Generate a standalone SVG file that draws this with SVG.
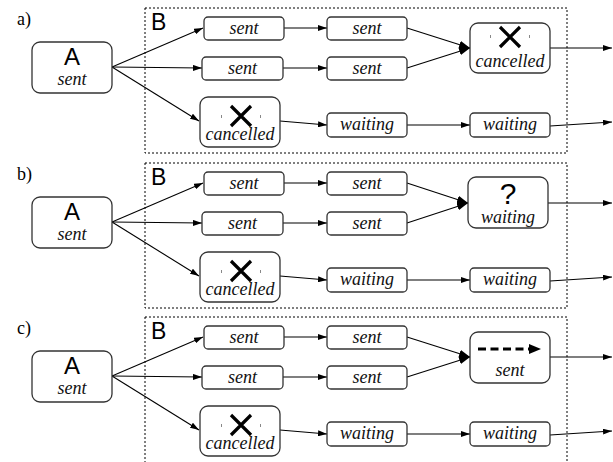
<svg xmlns="http://www.w3.org/2000/svg" width="613" height="462" viewBox="0 0 613 462">
<defs>
<marker id="ah" markerWidth="9" markerHeight="6" refX="9" refY="3" orient="auto" markerUnits="userSpaceOnUse"><path d="M0,0 L9,3 L0,6 z" fill="#000"/></marker>
<marker id="ahb" markerWidth="11" markerHeight="8" refX="11" refY="4" orient="auto" markerUnits="userSpaceOnUse"><path d="M0,0 L11,4 L0,8 z" fill="#000"/></marker>
<style>
.box{fill:#fff;stroke:#333;stroke-width:1.3}
.grp{fill:none;stroke:#000;stroke-width:1;stroke-dasharray:2,2}
.ln{fill:none;stroke:#000;stroke-width:1.1}
.it{font-family:"Liberation Serif",serif;font-style:italic;font-size:18px;fill:#111;text-anchor:middle}
.big{font-family:"Liberation Sans",sans-serif;font-size:24px;fill:#000;text-anchor:middle}
.bl{font-family:"Liberation Sans",sans-serif;font-size:23px;fill:#000}
.pl{font-family:"Liberation Serif",serif;font-size:18px;fill:#000}
.x{stroke:#000;stroke-width:3.2;fill:none}
.dot{fill:#888}
</style>
</defs>

<!-- Panel a -->
<g id="panel-a">
<text class="pl" x="17" y="25">a)</text>
<rect id="a-groupB" class="grp" x="145" y="8" width="422" height="145"/>
<text class="bl" x="151" y="30">B</text>
<g id="a-connectors">
<line class="ln" x1="112" y1="67" x2="203" y2="28" marker-end="url(#ah)"/>
<line class="ln" x1="112" y1="67" x2="202" y2="68" marker-end="url(#ah)"/>
<line class="ln" x1="112" y1="67" x2="199" y2="121" marker-end="url(#ah)"/>
<line class="ln" x1="284" y1="28" x2="327" y2="28" marker-end="url(#ah)"/>
<line class="ln" x1="283" y1="68" x2="327" y2="68" marker-end="url(#ah)"/>
<line class="ln" x1="280" y1="121" x2="327" y2="125" marker-end="url(#ah)"/>
<line class="ln" x1="407" y1="28" x2="470" y2="48" marker-end="url(#ahb)"/>
<line class="ln" x1="407" y1="68" x2="470" y2="48" marker-end="url(#ahb)"/>
<line class="ln" x1="407" y1="125" x2="470" y2="125" marker-end="url(#ah)"/>
<line class="ln" x1="550" y1="48" x2="612" y2="48" marker-end="url(#ah)"/>
<line class="ln" x1="550" y1="126" x2="612" y2="122" marker-end="url(#ah)"/>
</g>
<g id="a-A"><rect class="box" x="32" y="42" width="80" height="51" rx="8"/><text class="big" x="72" y="65">A</text><text class="it" x="72" y="85">sent</text></g>
<g id="a-s1"><rect class="box" x="204" y="17" width="80" height="23" rx="4"/><text class="it" x="244" y="34">sent</text></g>
<g id="a-s2"><rect class="box" x="202" y="57" width="81" height="23" rx="4"/><text class="it" x="242.5" y="74">sent</text></g>
<g id="a-c1"><rect class="box" x="200" y="97" width="80" height="50" rx="8"/><path class="x" d="M231,106 L251,126 M251,106 L231,126"/><rect class="dot" x="221" y="115" width="1" height="3"/><rect class="dot" x="260" y="115" width="1" height="3"/><text class="it" x="240" y="140">cancelled</text></g>
<g id="a-s3"><rect class="box" x="327" y="17" width="80" height="23" rx="4"/><text class="it" x="367" y="34">sent</text></g>
<g id="a-s4"><rect class="box" x="327" y="57" width="80" height="23" rx="4"/><text class="it" x="367" y="74">sent</text></g>
<g id="a-w1"><rect class="box" x="327" y="113" width="80" height="24" rx="4"/><text class="it" x="367" y="130">waiting</text></g>
<g id="a-w2"><rect class="box" x="470" y="113" width="80" height="24" rx="4"/><text class="it" x="510" y="130">waiting</text></g>
<g id="a-m"><rect class="box" x="470" y="23" width="80" height="50" rx="8"/><path class="x" d="M500,27 L520,47 M520,27 L500,47"/><rect class="dot" x="490" y="35" width="1" height="3"/><rect class="dot" x="529" y="35" width="1" height="3"/><text class="it" x="510" y="67">cancelled</text></g>
</g>

<!-- Panel b -->
<g id="panel-b">
<text class="pl" x="17" y="180">b)</text>
<rect id="b-groupB" class="grp" x="145" y="163" width="422" height="145"/>
<text class="bl" x="151" y="185">B</text>
<g id="b-connectors">
<line class="ln" x1="112" y1="222" x2="203" y2="183" marker-end="url(#ah)"/>
<line class="ln" x1="112" y1="222" x2="202" y2="223" marker-end="url(#ah)"/>
<line class="ln" x1="112" y1="222" x2="199" y2="276" marker-end="url(#ah)"/>
<line class="ln" x1="284" y1="183" x2="327" y2="183" marker-end="url(#ah)"/>
<line class="ln" x1="283" y1="223" x2="327" y2="223" marker-end="url(#ah)"/>
<line class="ln" x1="280" y1="276" x2="327" y2="280" marker-end="url(#ah)"/>
<line class="ln" x1="407" y1="183" x2="468" y2="203" marker-end="url(#ahb)"/>
<line class="ln" x1="407" y1="223" x2="468" y2="203" marker-end="url(#ahb)"/>
<line class="ln" x1="407" y1="280" x2="470" y2="280" marker-end="url(#ah)"/>
<line class="ln" x1="548" y1="203" x2="612" y2="203" marker-end="url(#ah)"/>
<line class="ln" x1="550" y1="281" x2="612" y2="277" marker-end="url(#ah)"/>
</g>
<g id="b-A"><rect class="box" x="32" y="197" width="80" height="51" rx="8"/><text class="big" x="72" y="220">A</text><text class="it" x="72" y="240">sent</text></g>
<g id="b-s1"><rect class="box" x="204" y="172" width="80" height="23" rx="4"/><text class="it" x="244" y="189">sent</text></g>
<g id="b-s2"><rect class="box" x="202" y="212" width="81" height="23" rx="4"/><text class="it" x="242.5" y="229">sent</text></g>
<g id="b-c1"><rect class="box" x="200" y="252" width="80" height="50" rx="8"/><path class="x" d="M231,261 L251,281 M251,261 L231,281"/><rect class="dot" x="221" y="270" width="1" height="3"/><rect class="dot" x="260" y="270" width="1" height="3"/><text class="it" x="240" y="295">cancelled</text></g>
<g id="b-s3"><rect class="box" x="327" y="172" width="80" height="23" rx="4"/><text class="it" x="367" y="189">sent</text></g>
<g id="b-s4"><rect class="box" x="327" y="212" width="80" height="23" rx="4"/><text class="it" x="367" y="229">sent</text></g>
<g id="b-w1"><rect class="box" x="327" y="268" width="80" height="24" rx="4"/><text class="it" x="367" y="285">waiting</text></g>
<g id="b-w2"><rect class="box" x="470" y="268" width="80" height="24" rx="4"/><text class="it" x="510" y="285">waiting</text></g>
<g id="b-m"><rect class="box" x="468" y="177" width="80" height="51" rx="8"/><text class="big" x="508" y="204" style="font-size:30px">?</text><text class="it" x="508" y="223">waiting</text></g>
</g>

<!-- Panel c -->
<g id="panel-c">
<text class="pl" x="17" y="334">c)</text>
<rect id="c-groupB" class="grp" x="145" y="317" width="422" height="147"/>
<text class="bl" x="151" y="339">B</text>
<g id="c-connectors">
<line class="ln" x1="112" y1="376" x2="203" y2="337" marker-end="url(#ah)"/>
<line class="ln" x1="112" y1="376" x2="202" y2="377" marker-end="url(#ah)"/>
<line class="ln" x1="112" y1="376" x2="199" y2="430" marker-end="url(#ah)"/>
<line class="ln" x1="284" y1="337" x2="327" y2="337" marker-end="url(#ah)"/>
<line class="ln" x1="283" y1="377" x2="327" y2="377" marker-end="url(#ah)"/>
<line class="ln" x1="280" y1="430" x2="327" y2="434" marker-end="url(#ah)"/>
<line class="ln" x1="407" y1="337" x2="470" y2="357" marker-end="url(#ahb)"/>
<line class="ln" x1="407" y1="377" x2="470" y2="357" marker-end="url(#ahb)"/>
<line class="ln" x1="407" y1="434" x2="470" y2="434" marker-end="url(#ah)"/>
<line class="ln" x1="550" y1="357" x2="612" y2="357" marker-end="url(#ah)"/>
<line class="ln" x1="550" y1="435" x2="612" y2="431" marker-end="url(#ah)"/>
</g>
<g id="c-A"><rect class="box" x="32" y="351" width="80" height="51" rx="8"/><text class="big" x="72" y="374">A</text><text class="it" x="72" y="394">sent</text></g>
<g id="c-s1"><rect class="box" x="204" y="326" width="80" height="23" rx="4"/><text class="it" x="244" y="343">sent</text></g>
<g id="c-s2"><rect class="box" x="202" y="366" width="81" height="23" rx="4"/><text class="it" x="242.5" y="383">sent</text></g>
<g id="c-c1"><rect class="box" x="200" y="406" width="80" height="50" rx="8"/><path class="x" d="M231,415 L251,435 M251,415 L231,435"/><rect class="dot" x="221" y="424" width="1" height="3"/><rect class="dot" x="260" y="424" width="1" height="3"/><text class="it" x="240" y="449">cancelled</text></g>
<g id="c-s3"><rect class="box" x="327" y="326" width="80" height="23" rx="4"/><text class="it" x="367" y="343">sent</text></g>
<g id="c-s4"><rect class="box" x="327" y="366" width="80" height="23" rx="4"/><text class="it" x="367" y="383">sent</text></g>
<g id="c-w1"><rect class="box" x="327" y="422" width="80" height="24" rx="4"/><text class="it" x="367" y="439">waiting</text></g>
<g id="c-w2"><rect class="box" x="470" y="422" width="80" height="24" rx="4"/><text class="it" x="510" y="439">waiting</text></g>
<g id="c-m"><rect class="box" x="470" y="332" width="80" height="51" rx="8"/><line x1="478" y1="349" x2="531" y2="349" stroke="#000" stroke-width="3" stroke-dasharray="8,4.5"/><path d="M529,344 L541,349 L529,354 z" fill="#000"/><text class="it" x="510" y="376">sent</text></g>
</g>
</svg>
